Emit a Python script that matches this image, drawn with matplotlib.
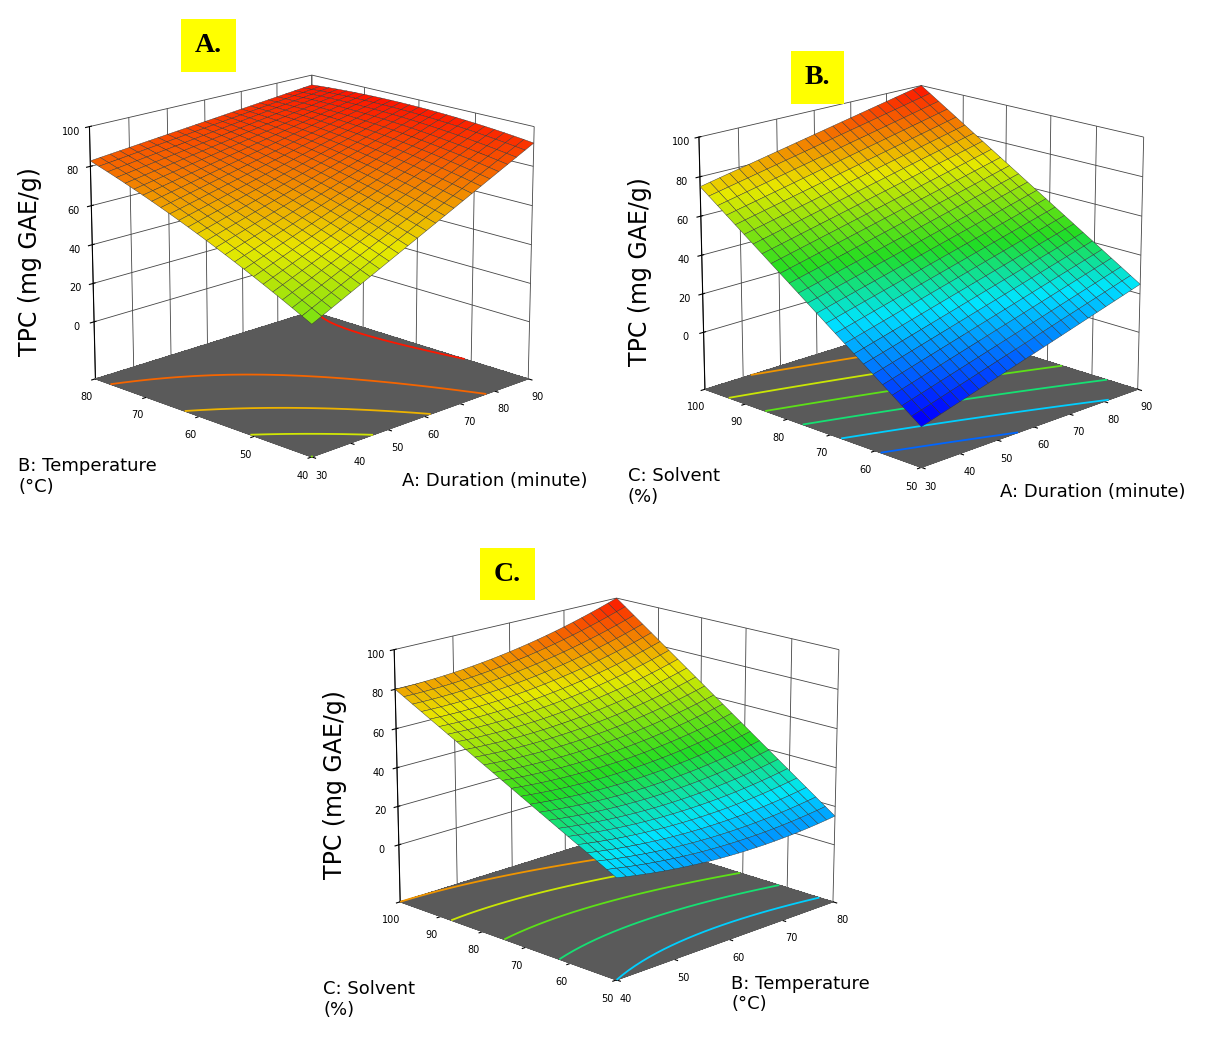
import numpy as np
import matplotlib.pyplot as plt
from matplotlib.colors import LinearSegmentedColormap, Normalize

# Response surface coefficients (coded units -1..1)
# z = b0 + b1*x + b2*y + b12*x*y + b11*x^2 + b22*y^2
coef_a = [79.0, 17.25, 12.75, -11.25, 0.0, -3.0]   # x: A duration, y: B temperature
coef_b = [47.5, 15.0, 40.0, -2.5, 0.0, 0.0]        # x: A duration, y: C solvent
coef_c = [48.75, 3.75, 36.25, 6.25, 5.0, 0.0]      # x: B temperature, y: C solvent

duration_range = (30, 90)
temperature_range = (40, 80)
solvent_range = (50, 100)

duration_ticks = [30, 40, 50, 60, 70, 80, 90]
temperature_ticks = [40, 50, 60, 70, 80]
solvent_ticks = [50, 60, 70, 80, 90, 100]
z_ticks = [0, 20, 40, 60, 80, 100]

cmap = LinearSegmentedColormap.from_list(
    "de", [(0, "#0000ff"), (0.3, "#00e5ff"), (0.47, "#22dd22"),
           (0.72, "#e8e800"), (1.0, "#ff0000")])
zfloor = -30

fig = plt.figure(figsize=(12.19, 10.46), dpi=100)


def panel(rect, coef, xr, yr, xt, yt, xlabel, ylabel, letter, lpos, vrange, lab_x):
    ax = fig.add_axes(rect, projection="3d")
    ax.computed_zorder = False
    norm = Normalize(*vrange)
    u = np.linspace(-1, 1, 25)
    X, Y = np.meshgrid(u, u)
    b0, b1, b2, b12, b11, b22 = coef
    Z = b0 + b1 * X + b2 * Y + b12 * X * Y + b11 * X ** 2 + b22 * Y ** 2
    Xr = xr[0] + (X + 1) / 2 * (xr[1] - xr[0])
    Yr = yr[0] + (Y + 1) / 2 * (yr[1] - yr[0])
    ax.plot_surface(Xr, Yr, np.full_like(Z, zfloor), color="#5a5a5a", shade=False,
                    linewidth=0, antialiased=False, rstride=24, cstride=24, zorder=0)
    cs = ax.contour(Xr, Yr, Z, levels=np.arange(-10, 100, 15), zdir="z", offset=zfloor,
                    cmap=cmap, norm=norm, linewidths=1.3)
    cs.set_zorder(1)
    ax.plot_surface(Xr, Yr, Z, facecolors=cmap(norm(Z)), edgecolor="#333333",
                    linewidth=0.3, shade=False, rstride=1, cstride=1, zorder=3)
    ax.set_xlim(*xr)
    ax.set_ylim(*yr)
    ax.set_zlim(zfloor, 100)
    ax.set_xticks(xt)
    ax.set_yticks(yt)
    ax.set_zticks(z_ticks)
    ax.tick_params(labelsize=7, pad=0)
    for a in (ax.xaxis, ax.yaxis, ax.zaxis):
        a.set_pane_color((1, 1, 1, 0))
        a._axinfo["grid"]["color"] = "#444444"
        a._axinfo["grid"]["linewidth"] = 0.6
    ax.view_init(elev=17, azim=-135)
    ax.set_box_aspect((1, 1, 0.85), zoom=0.95)
    x0, y0, w, h = rect
    fig.text(x0 + 0.05 * w, y0 + 0.5 * h, "TPC (mg GAE/g)", rotation=90,
             fontsize=17, ha="center", va="center")
    fig.text(x0 + lab_x * w, y0 + 0.07 * h, xlabel, fontsize=13)
    fig.text(x0 + 0.03 * w, y0 + 0.06 * h, ylabel, fontsize=13)
    fig.text(lpos[0], lpos[1], letter, fontsize=20, fontweight="bold",
             family="Liberation Serif",
             bbox=dict(facecolor="#ffff00", edgecolor="none", pad=10))
    return ax


panel([0.0, 0.5, 0.5, 0.5], coef_a, duration_range, temperature_range,
      duration_ticks, temperature_ticks, "A: Duration (minute)",
      "B: Temperature\n(°C)", "A.", (0.16, 0.95), (-60, 100), 0.66)
panel([0.5, 0.49, 0.5, 0.5], coef_b, duration_range, solvent_range,
      duration_ticks, solvent_ticks, "A: Duration (minute)",
      "C: Solvent\n(%)", "B.", (0.66, 0.92), (-10, 100), 0.64)
panel([0.25, 0.0, 0.5, 0.5], coef_c, temperature_range, solvent_range,
      temperature_ticks, solvent_ticks, "B: Temperature\n(°C)",
      "C: Solvent\n(%)", "C.", (0.405, 0.445), (-10, 100), 0.70)

fig.savefig("out.png", dpi=100, facecolor="white")
